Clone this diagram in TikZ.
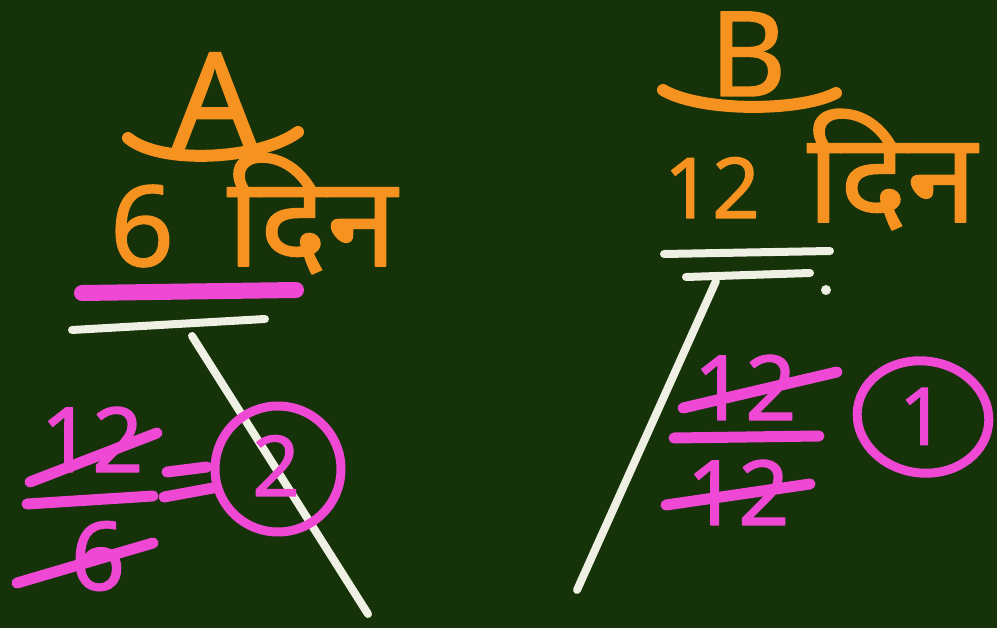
\documentclass[tikz,border=0pt]{standalone}
\usepackage{fontspec}
\setmainfont{Noto Sans}
\newfontfamily\deva[Script=Devanagari,FakeBold=1.2]{Noto Sans}
\definecolor{board}{RGB}{22,50,8}
\definecolor{chalkorange}{RGB}{246,146,32}
\definecolor{chalkpink}{RGB}{238,72,212}
\definecolor{chalkwhite}{RGB}{238,240,228}
\begin{document}
\begin{tikzpicture}[x=1pt,y=-1pt,line cap=round,line join=round,
  ostroke/.style={draw=chalkorange,line width=12pt},
  pstroke/.style={draw=chalkpink,line width=11pt},
  wstroke/.style={draw=chalkwhite,line width=8pt},
  otext/.style={text=chalkorange,inner sep=0pt,anchor=base},
  ptext/.style={text=chalkpink,inner sep=0pt,anchor=base},
  fs/.style={font=\deva\fontsize{#1}{#1}\selectfont}]
\fill[board] (0,0) rectangle (997,628);
\useasboundingbox (0,0) rectangle (997,628);

% ---------- left: A ----------
\node[otext,fs=133] (A) at (215,148) {A};
\draw[ostroke] (128,138) .. controls (160,165) and (260,160) .. (298,132);
\node[otext,fs=112] (six) at (142,266) {6};
\node[otext,fs=126] (dinA) at (312,266) {दिन};
\draw[draw=chalkpink,line width=16pt] (82,293) -- (296,290);
\draw[wstroke] (72,330) -- (265,319);
\draw[wstroke] (192,336) -- (368,614);

% left fraction
\node[ptext,fs=90] (numA) at (92,472) {12};
\draw[pstroke] (30,482) -- (157,433);
\draw[pstroke] (27,504) -- (153,496);
\node[ptext,fs=95] (denA) at (98,590) {6};
\draw[pstroke] (17,583) -- (153,543);
\draw[pstroke] (167,472) -- (207,467);
\draw[pstroke] (164,497) -- (213,488);
\node[ptext,fs=84] (two) at (276,496) {2};
\draw[draw=chalkpink,line width=9pt] (278,469) circle (63);

% ---------- right: B ----------
\node[otext,fs=118] (B) at (748,96) {B};
\draw[ostroke] (663,90) .. controls (700,112) and (800,112) .. (836,93);
\node[otext,fs=84] (twelve) at (712,218) {12};
\node[otext,fs=126] (dinB) at (892,222) {दिन};
\draw[wstroke] (664,254) -- (830,251);
\draw[wstroke] (686,277) -- (810,273);
\fill[chalkwhite] (826,290) circle (5);
\draw[wstroke] (716,281) -- (577,590);

% right fraction
\node[ptext,fs=90] (numB) at (745,420) {12};
\draw[pstroke] (683,408) -- (837,372);
\draw[pstroke] (674,438) -- (819,436);
\node[ptext,fs=90] (denB) at (738,525) {12};
\draw[pstroke] (666,505) -- (810,484);
\draw[draw=chalkpink,line width=9pt,rotate around={-8:(923,417)}] (923,417) ellipse (66 and 56);
\node[ptext,fs=80] (one) at (922,445) {1};
\end{tikzpicture}
\end{document}
